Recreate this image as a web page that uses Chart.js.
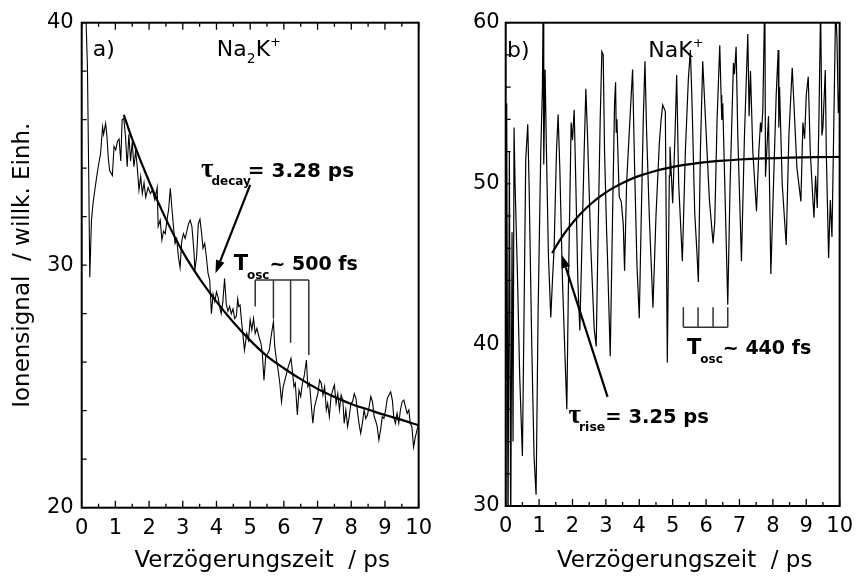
<!DOCTYPE html>
<html>
<head>
<meta charset="utf-8">
<script src="https://cdn.jsdelivr.net/npm/chart.js@4.4.0/dist/chart.umd.min.js"></script>
<style>
  html, body { margin: 0; padding: 0; background: #fff; }
  #wrap { position: relative; width: 861px; height: 576px; }
  #left { position: absolute; left: 0; top: 0; }
  #right { position: absolute; left: 440px; top: 0; }
</style>
</head>
<body>
<div id="wrap">
  <canvas id="left" width="440" height="576" style="width:440px;height:576px"></canvas>
  <canvas id="right" width="421" height="576" style="width:421px;height:576px"></canvas>
</div>
<script>
// ---- panel a) Na2K+ : ion signal vs delay (ps)
var delayA = [0.05, 0.12, 0.17, 0.21, 0.24, 0.29, 0.34, 0.39, 0.44, 0.49, 0.56, 0.62, 0.65, 0.71, 0.75, 0.79, 0.83, 0.91, 0.96, 1.01,
  1.06, 1.11, 1.16, 1.2, 1.25, 1.3, 1.35, 1.4, 1.45, 1.5, 1.55, 1.6, 1.64, 1.7, 1.75, 1.8, 1.85, 1.9, 1.97, 2.04,
  2.1, 2.17, 2.24, 2.27, 2.33, 2.38, 2.43, 2.48, 2.53, 2.58, 2.63, 2.68, 2.73, 2.77, 2.82, 2.87, 2.92, 2.97, 3.02, 3.07,
  3.12, 3.17, 3.22, 3.27, 3.33, 3.36, 3.41, 3.46, 3.51, 3.56, 3.6, 3.65, 3.7, 3.75, 3.8, 3.85, 3.9, 3.95, 4.0, 4.05,
  4.1, 4.14, 4.19, 4.24, 4.29, 4.34, 4.39, 4.44, 4.49, 4.54, 4.59, 4.63, 4.66, 4.7, 4.75, 4.83, 4.9, 4.95, 5.0, 5.05,
  5.1, 5.15, 5.2, 5.26, 5.32, 5.36, 5.41, 5.46, 5.52, 5.57, 5.62, 5.69, 5.73, 5.78, 5.83, 5.88, 5.93, 5.98, 6.03, 6.13,
  6.21, 6.25, 6.3, 6.34, 6.4, 6.45, 6.5, 6.55, 6.6, 6.67, 6.71, 6.76, 6.81, 6.86, 6.91, 6.96, 7.01, 7.06, 7.11, 7.16,
  7.21, 7.26, 7.3, 7.35, 7.4, 7.45, 7.5, 7.55, 7.6, 7.65, 7.7, 7.75, 7.79, 7.84, 7.89, 7.94, 7.99, 8.04, 8.09, 8.14,
  8.19, 8.23, 8.28, 8.33, 8.38, 8.43, 8.48, 8.53, 8.58, 8.63, 8.68, 8.72, 8.77, 8.82, 8.87, 8.92, 8.97, 9.02, 9.07, 9.12,
  9.17, 9.22, 9.26, 9.31, 9.36, 9.41, 9.46, 9.51, 9.56, 9.61, 9.66, 9.71, 9.75, 9.8, 9.85, 9.9, 9.95, 10.0];
var signalA = [41.0, 40.5, 38.2, 33.5, 29.5, 31.86, 32.6, 33.1, 33.6, 34.06, 34.6, 35.7, 35.4, 35.85, 35.3, 34.4, 33.9, 33.7, 34.9, 34.75,
  35.1, 35.2, 34.3, 36.0, 36.05, 35.3, 34.06, 35.4, 34.3, 35.1, 34.06, 34.7, 34.2, 33.1, 33.65, 32.96, 33.4, 32.8, 33.2, 32.96,
  33.1, 32.7, 33.2, 31.6, 31.86, 31.04, 31.4, 31.3, 31.86, 32.3, 33.17, 32.3, 31.5, 30.9, 31.1, 30.35, 29.9, 31.0, 31.3, 31.1,
  31.4, 31.7, 31.86, 31.6, 30.6, 29.8, 30.35, 31.7, 31.9, 31.3, 30.7, 30.9, 30.35, 29.66, 29.4, 28.0, 28.8, 28.5, 28.9, 28.66,
  28.25, 28.0, 28.5, 29.45, 28.4, 28.1, 28.3, 28.0, 28.2, 27.8, 27.9, 28.6, 28.3, 28.36, 27.6, 26.5, 27.19, 26.91, 27.74, 27.33,
  27.8, 27.19, 27.4, 27.05, 26.78, 26.36, 25.26, 26.23, 26.36, 26.5, 27.05, 27.67, 26.64, 26.09, 25.68, 25.13, 24.37, 24.99, 25.26, 25.81,
  26.16, 25.68, 24.99, 25.13, 23.82, 24.85, 24.58, 25.13, 25.4, 26.09, 24.99, 25.13, 24.3, 23.48, 24.16, 24.44, 24.71, 25.26, 25.13, 24.65,
  24.99, 24.03, 24.3, 23.75, 24.58, 24.85, 25.06, 24.3, 24.71, 24.03, 24.65, 24.44, 23.48, 24.03, 23.34, 23.75, 24.3, 24.37, 24.71, 24.51,
  23.89, 23.48, 23.07, 23.48, 24.03, 23.68, 23.82, 24.16, 24.58, 24.37, 23.75, 23.61, 23.34, 22.79, 23.2, 23.75, 23.68, 24.03, 24.51, 24.65,
  24.78, 24.44, 23.75, 23.48, 23.89, 23.48, 24.03, 24.37, 24.44, 24.16, 23.89, 24.03, 23.48, 23.34, 22.5, 22.9, 23.2, 23.4];
var fitDelayA = [1.25, 1.5, 2.0, 2.5, 3.0, 3.5, 4.0, 4.5, 5.0, 5.5, 6.0, 6.5, 7.0, 7.5, 8.0, 8.5, 9.0, 9.5, 10.0];
var fitA = [36.2, 35.2, 33.45, 31.9, 30.55, 29.45, 28.5, 27.65, 26.9, 26.25, 25.75, 25.3, 24.9, 24.57, 24.28, 24.05, 23.82, 23.62, 23.4];

// ---- panel b) NaK+
var delayB = [0.0, 0.03, 0.07, 0.11, 0.15, 0.19, 0.22, 0.25, 0.28, 0.35, 0.42, 0.5, 0.55, 0.6, 0.66, 0.7, 0.78, 0.85, 0.91, 0.97,
  1.05, 1.1, 1.12, 1.14, 1.18, 1.22, 1.28, 1.35, 1.4, 1.45, 1.52, 1.57, 1.62, 1.7, 1.78, 1.83, 1.88, 1.96, 2.0, 2.05,
  2.1, 2.16, 2.22, 2.28, 2.35, 2.4, 2.45, 2.55, 2.65, 2.71, 2.76, 2.83, 2.88, 2.92, 2.96, 3.02, 3.05, 3.13, 3.2, 3.26,
  3.29, 3.31, 3.33, 3.4, 3.46, 3.52, 3.56, 3.62, 3.7, 3.8, 3.86, 3.93, 4.0, 4.06, 4.12, 4.17, 4.22, 4.3, 4.41, 4.5,
  4.6, 4.65, 4.7, 4.78, 4.84, 4.9, 4.92, 5.0, 5.07, 5.12, 5.18, 5.29, 5.38, 5.47, 5.53, 5.58, 5.66, 5.72, 5.77, 5.83,
  5.9, 5.96, 6.02, 6.1, 6.21, 6.26, 6.33, 6.41, 6.45, 6.47, 6.5, 6.56, 6.65, 6.72, 6.82, 6.85, 6.9, 6.95, 7.06, 7.15,
  7.25, 7.29, 7.33, 7.4, 7.51, 7.58, 7.63, 7.66, 7.7, 7.76, 7.78, 7.87, 7.94, 8.02, 8.1, 8.16, 8.18, 8.2, 8.28, 8.4,
  8.48, 8.58, 8.63, 8.72, 8.84, 8.9, 8.95, 9.0, 9.06, 9.12, 9.2, 9.23, 9.28, 9.33, 9.38, 9.43, 9.47, 9.5, 9.57, 9.6,
  9.67, 9.72, 9.77, 9.82, 9.88, 9.92, 9.96, 10.0];
var signalB = [28, 55, 28, 52, 28, 47, 34, 53.5, 50, 44.5, 38, 33.1, 42, 51.5, 53.7, 50, 40, 33, 30.7, 42,
  52, 56, 61, 51.2, 57.1, 52, 45.5, 41.7, 44, 46, 52, 54.3, 51, 44, 39, 36.0, 44, 53.8, 52.7, 54.6,
  50, 44, 40.9, 46, 52, 55.9, 53, 46, 41, 39.9, 46, 54, 58.2, 58.0, 52, 47.2, 45.3, 39.3, 48, 55,
  56.3, 53.2, 54.0, 49.2, 48.9, 47.5, 44.6, 50, 53.2, 57.1, 51, 45, 41.65, 48, 54, 57.6, 53.2, 48, 42.3, 48,
  52.5, 53.9, 54.9, 54.5, 38.9, 50.5, 52.3, 48.8, 53, 56.75, 50, 45.2, 52, 56.5, 58.3, 55, 48.2, 46, 43.9, 52,
  57.6, 55, 52.4, 49, 46.3, 47.6, 54, 58.6, 55.5, 53.96, 55, 50, 42.5, 50, 57.5, 56.8, 58.5, 53, 45.2, 53,
  59.3, 54.2, 57, 52, 48.3, 52, 53.8, 53.2, 54.6, 62, 50.44, 54.2, 44.4, 50, 55.5, 58.3, 53.5, 56, 50, 46.2,
  53, 57.2, 55, 51, 48.9, 53.8, 52.8, 55.5, 56.65, 52, 49, 47.9, 50.5, 48.5, 54, 61, 53, 53.5, 57.06, 52,
  45.4, 49, 46.7, 53, 61, 59, 54.4, 56];
var fitDelayB = [1.39, 1.5, 1.6, 1.8, 2.0, 2.2, 2.4, 2.6, 2.8, 3.0, 3.25, 3.5, 3.75, 4.0, 4.4, 4.8, 5.3, 5.8, 6.4, 7.0, 7.7, 8.5, 9.3, 10.0];
var fitB = [45.7, 46.09, 46.43, 47.04, 47.57, 48.05, 48.47, 48.84, 49.17, 49.47, 49.78, 50.05, 50.29, 50.49, 50.75, 50.96, 51.16, 51.3, 51.42, 51.51, 51.58, 51.62, 51.65, 51.67];

var xTicks = [0, 1, 2, 3, 4, 5, 6, 7, 8, 9, 10];
var xTitle = "Verzögerungszeit  / ps";
var yTitle = "Ionensignal  / willk. Einh.";

var FONT = "'DejaVu Sans', Verdana, sans-serif";
var TAU = "'Liberation Serif', 'DejaVu Serif', serif";

function pts(xs, ys) {
  return xs.map(function (x, i) { return { x: x, y: ys[i] }; });
}

// text made of pieces: [text, size, bold, dy, family, extra gap]
function drawRich(ctx, x, y, parts) {
  var cx = x;
  parts.forEach(function (p) {
    ctx.font = (p[2] ? "bold " : "") + p[1] + "px " + (p[4] || FONT);
    ctx.fillText(p[0], cx, y + (p[3] || 0));
    cx += ctx.measureText(p[0]).width + (p[5] || 0);
  });
}

function arrow(ctx, x1, y1, x2, y2) {
  var ang = Math.atan2(y2 - y1, x2 - x1), L = 13, W = 4.5;
  var bx = x2 - L * Math.cos(ang), by = y2 - L * Math.sin(ang);
  ctx.beginPath();
  ctx.moveTo(x1, y1);
  ctx.lineTo(bx, by);
  ctx.lineWidth = 2.2;
  ctx.stroke();
  ctx.beginPath();
  ctx.moveTo(x2, y2);
  ctx.lineTo(bx + W * Math.sin(ang), by - W * Math.cos(ang));
  ctx.lineTo(bx - W * Math.sin(ang), by + W * Math.cos(ang));
  ctx.closePath();
  ctx.fill();
}

var framePlugin = {
  id: "frame",
  afterDatasetsDraw: function (chart, args, o) {
    var ctx = chart.ctx, a = chart.chartArea, x = chart.scales.x, y = chart.scales.y;
    ctx.save();
    ctx.strokeStyle = "#000";
    ctx.fillStyle = "#000";
    ctx.lineWidth = 2;
    ctx.strokeRect(a.left, a.top, a.right - a.left, a.bottom - a.top);
    ctx.lineWidth = 1.3;
    ctx.beginPath();
    for (var v = 0; v <= 10; v += 0.5) {
      var px = x.getPixelForValue(v);
      var len = v % 1 === 0 ? 7 : 4;
      ctx.moveTo(px, a.bottom); ctx.lineTo(px, a.bottom - len);
      if (o.topTicks) { ctx.moveTo(px, a.top); ctx.lineTo(px, a.top + len); }
    }
    for (var w = y.min; w <= y.max; w += 2) {
      var py = y.getPixelForValue(w);
      ctx.moveTo(a.left, py); ctx.lineTo(a.left + 5, py);
    }
    ctx.stroke();

    // T_osc bracket
    var b = o.bracket;
    ctx.lineWidth = 1.5;
    ctx.strokeStyle = "#333";
    ctx.beginPath();
    var by = y.getPixelForValue(b.y);
    ctx.moveTo(x.getPixelForValue(b.xs[0]), by);
    ctx.lineTo(x.getPixelForValue(b.xs[b.xs.length - 1]), by);
    b.xs.forEach(function (bx, i) {
      ctx.moveTo(x.getPixelForValue(bx), by);
      ctx.lineTo(x.getPixelForValue(bx), y.getPixelForValue(b.ends[i]));
    });
    ctx.stroke();

    ctx.strokeStyle = "#000";
    var ar = o.arrow;
    arrow(ctx, x.getPixelForValue(ar[0]), y.getPixelForValue(ar[1]), x.getPixelForValue(ar[2]), y.getPixelForValue(ar[3]));

    ctx.textBaseline = "alphabetic";
    o.texts.forEach(function (t) {
      drawRich(ctx, x.getPixelForValue(t.x), y.getPixelForValue(t.y), t.parts);
    });

    // x title sits a little right of the axis centre in the original
    ctx.font = "23px " + FONT;
    ctx.textAlign = "center";
    ctx.fillText(xTitle, (a.left + a.right) / 2 + 12, 567);
    ctx.restore();
  }
};

function makeChart(id, cfg) {
  return new Chart(document.getElementById(id), {
    type: "line",
    data: {
      datasets: [
        { data: pts(cfg.xs, cfg.ys), borderColor: "#000", borderWidth: cfg.lw, pointRadius: 0, tension: 0 },
        { data: pts(cfg.fx, cfg.fy), borderColor: "#000", borderWidth: 2.2, pointRadius: 0, tension: 0.4, cubicInterpolationMode: "monotone" }
      ]
    },
    options: {
      responsive: false,
      animation: false,
      events: [],
      layout: { padding: cfg.pad },
      plugins: { legend: { display: false }, tooltip: { enabled: false }, frame: cfg.frame },
      scales: {
        x: {
          type: "linear", min: xTicks[0], max: xTicks[xTicks.length - 1],
          afterFit: function (s) { s.height = cfg.xh; },
          afterBuildTicks: function (s) { s.ticks = xTicks.map(function (v) { return { value: v }; }); },
          grid: { display: false, drawTicks: false },
          border: { display: false },
          ticks: { autoSkip: false, maxRotation: 0, padding: 8, color: "#000", font: { family: FONT, size: 21 } }
        },
        y: {
          min: cfg.ymin, max: cfg.ymax,
          afterFit: function (s) { s.width = cfg.yw; },
          grid: { display: false, drawTicks: false },
          border: { display: false },
          ticks: {
            stepSize: 2, autoSkip: false, padding: cfg.ypad, color: "#000", font: { family: FONT, size: 21 },
            callback: function (v) { return v % 10 === 0 ? v : ""; }
          },
          title: { display: cfg.ytitle !== "", text: cfg.ytitle, color: "#000", font: { family: FONT, size: 23 }, padding: { top: 9, bottom: 0 } }
        }
      }
    },
    plugins: [framePlugin]
  });
}

makeChart("left", {
  xs: delayA, ys: signalA, fx: fitDelayA, fy: fitA, lw: 1.1,
  ymin: 20, ymax: 40, yw: 81.7, xh: 68.3, ypad: 8,
  pad: { left: 0, right: 18.3, top: 22.7, bottom: 0 },
  ytitle: yTitle,
  frame: {
    topTicks: true,
    bracket: { xs: [5.15, 5.69, 6.2, 6.74], y: 29.39, ends: [28.3, 27.8, 26.8, 26.3] },
    arrow: [5.0, 33.31, 3.97, 29.67],
    texts: [
      { x: 0.33, y: 38.63, parts: [["a)", 22, false]] },
      { x: 4.01, y: 38.63, parts: [["Na", 22, false], ["2", 14, false, 7], ["K", 22, false], ["+", 13, false, -10]] },
      { x: 3.54, y: 33.64, parts: [["\u03c4", 27, true, 0, TAU, -2], ["decay", 12, true, 8, FONT, -3], ["= 3.28 ps", 20, true]] },
      { x: 4.51, y: 29.8, parts: [["T", 21, true, 0, FONT, -1], ["osc", 12, true, 9, FONT, 0], ["~ 500 fs", 19, true]] }
    ]
  }
});

makeChart("right", {
  xs: delayB, ys: signalB, fx: fitDelayB, fy: fitB, lw: 1.2,
  ymin: 30, ymax: 60, yw: 65.7, xh: 70, ypad: 6,
  pad: { left: 0, right: 13, top: 22.7, bottom: 0 },
  ytitle: "",
  frame: {
    topTicks: false,
    bracket: { xs: [5.32, 5.76, 6.21, 6.65], y: 41.1, ends: [42.33, 42.33, 42.33, 42.33] },
    arrow: [3.05, 36.77, 1.68, 45.58],
    texts: [
      { x: 0.04, y: 57.87, parts: [["b)", 22, false]] },
      { x: 4.27, y: 57.87, parts: [["NaK", 22, false], ["+", 13, false, -10]] },
      { x: 1.88, y: 35.15, parts: [["\u03c4", 27, true, 0, TAU, -2], ["rise", 12.5, true, 8, FONT, 0], ["= 3.25 ps", 19.5, true]] },
      { x: 5.43, y: 39.43, parts: [["T", 21, true, 0, FONT, -1], ["osc", 12, true, 9, FONT, 0], ["~ 440 fs", 19, true]] }
    ]
  }
});
</script>
</body>
</html>
